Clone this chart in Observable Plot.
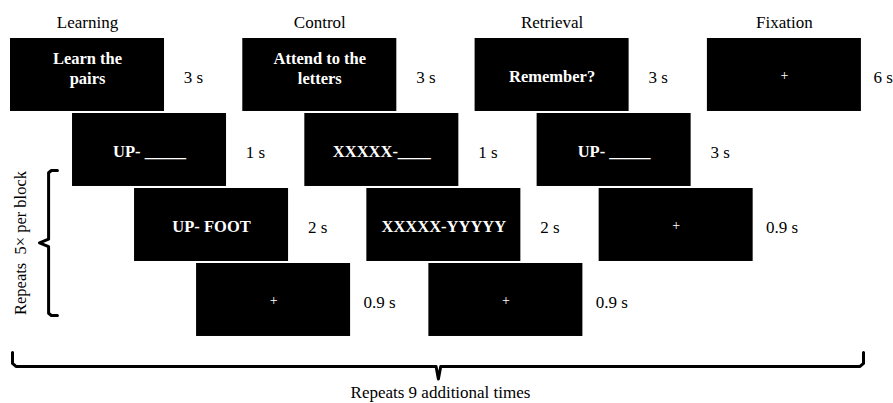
<!DOCTYPE html>
<html>
<head>
<meta charset="utf-8">
<script src="https://cdn.jsdelivr.net/npm/d3@7"></script>
<script src="https://cdn.jsdelivr.net/npm/@observablehq/plot@0.6"></script>
<style>
  html, body { margin: 0; padding: 0; background: white; }
  #chart { width: 893px; height: 403px; overflow: hidden; }
  #chart svg text { font-family: 'Liberation Serif', 'Times New Roman', serif; }
</style>
</head>
<body>
<div id="chart"></div>
<script>
// ---- data ----
const phases = ["Learning", "Control", "Retrieval", "Fixation"];
const learningScreens = ["Learn the\npairs", "UP- _____", "UP- FOOT", "+"];
const learningDurations = ["3 s", "1 s", "2 s", "0.9 s"];
const controlScreens = ["Attend to the\nletters", "XXXXX-____", "XXXXX-YYYYY", "+"];
const controlDurations = ["3 s", "1 s", "2 s", "0.9 s"];
const retrievalScreens = ["Remember?", "UP- _____", "+"];
const retrievalDurations = ["3 s", "3 s", "0.9 s"];
const fixationScreens = ["+"];
const fixationDurations = ["6 s"];
const innerRepeatLabel = "Repeats  5\u00d7 per block";
const outerRepeatLabel = "Repeats 9 additional times";

// ---- layout (in layout units: one column per phase, one row per screen step) ----
const SHIFT = 0.267;   // horizontal stagger per step
const BOX_W = 0.663;   // box width
const BOX_H = 0.973;   // box height
const screenTexts = [learningScreens, controlScreens, retrievalScreens, fixationScreens];
const durations = [learningDurations, controlDurations, retrievalDurations, fixationDurations];

const screens = [];
phases.forEach((phase, col) => {
  screenTexts[col].forEach((text, step) => {
    screens.push({phase, col, step, text, dur: durations[col][step]});
  });
});
const left = d => d.col + d.step * SHIFT;
const cx = d => left(d) + BOX_W / 2;
const right = d => left(d) + BOX_W;
const cy = d => d.step + BOX_H / 2;

// inner brace spans the repeated steps, outer brace spans the whole block
const ib = {xv: 0.164, xh: 0.202, xt: 0.125, y0: 1.76, y1: 3.693, r: 0.03};
const yMidI = (ib.y0 + ib.y1) / 2;
const innerBrace = [
  [ib.xh, ib.y0], [ib.xv + 0.012, ib.y0], [ib.xv, ib.y0 + ib.r],
  [ib.xv, yMidI - 0.05], [ib.xt, yMidI], [ib.xv, yMidI + 0.05],
  [ib.xv, ib.y1 - ib.r], [ib.xv + 0.012, ib.y1], [ib.xh, ib.y1]
];
const ob = {x0: 0.0086, x1: 3.672, xm: 1.842, yt: 4.187, yh: 4.373, yb: 4.54};
const outerBrace = [
  [ob.x0, ob.yt], [ob.x0, ob.yh - 0.04], [ob.x0 + 0.015, ob.yh],
  [ob.xm - 0.01, ob.yh], [ob.xm, ob.yb], [ob.xm + 0.01, ob.yh],
  [ob.x1 - 0.015, ob.yh], [ob.x1, ob.yh - 0.04], [ob.x1, ob.yt]
];

const serif = "Liberation Serif";
const multi = screens.filter(d => d.text.includes("\n"));
const single = screens.filter(d => !d.text.includes("\n") && d.text !== "+");
const plus = screens.filter(d => d.text === "+");
const durMain = screens.filter(d => d.phase !== "Fixation");
const durEdge = screens.filter(d => d.phase === "Fixation");

const chart = Plot.plot({
  width: 893,
  height: 403,
  margin: 0,
  style: {fontFamily: serif, background: "white"},
  x: {type: "linear", domain: [0, 4], range: [10, 10 + 4 * 232.3], axis: null},
  y: {type: "linear", domain: [0, 4], range: [38, 338], axis: null},
  marks: [
    Plot.rect(screens, {x1: left, x2: right, y1: d => d.step, y2: d => d.step + BOX_H, fill: "black"}),
    Plot.text(multi, {x: cx, y: cy, text: "text", fill: "white", fontFamily: serif, fontWeight: "bold", fontSize: 16.5, lineHeight: 1.2, dy: -7}),
    Plot.text(single, {x: cx, y: cy, text: "text", fill: "white", fontFamily: serif, fontWeight: "bold", fontSize: 16.5, dy: 2}),
    Plot.text(plus, {x: cx, y: cy, text: "text", fill: "white", fontFamily: serif, fontSize: 14, dy: 1}),
    Plot.text(durMain, {x: right, y: cy, text: "dur", fill: "black", fontFamily: serif, fontSize: 17, dx: 29, dy: 3, textAnchor: "middle"}),
    Plot.text(durEdge, {x: right, y: cy, text: "dur", fill: "black", fontFamily: serif, fontSize: 17, dx: 12, dy: 3, textAnchor: "start"}),
    Plot.text(phases, {x: (d, i) => i + BOX_W / 2, y: () => -0.21, text: d => d, fill: "black", fontFamily: serif, fontSize: 17}),
    Plot.line(innerBrace, {x: d => d[0], y: d => d[1], stroke: "black", strokeWidth: 3, strokeLinejoin: "round", strokeLinecap: "round"}),
    Plot.line(outerBrace, {x: d => d[0], y: d => d[1], stroke: "black", strokeWidth: 3, strokeLinejoin: "round", strokeLinecap: "round"}),
    Plot.text([innerRepeatLabel], {x: () => 0.043, y: () => yMidI, text: d => d, rotate: -90, fill: "black", fontFamily: serif, fontSize: 16.5}),
    Plot.text([outerRepeatLabel], {x: () => 1.851, y: () => 4.72, text: d => d, fill: "black", fontFamily: serif, fontSize: 17})
  ]
});
document.getElementById("chart").appendChild(chart);
</script>
</body>
</html>
